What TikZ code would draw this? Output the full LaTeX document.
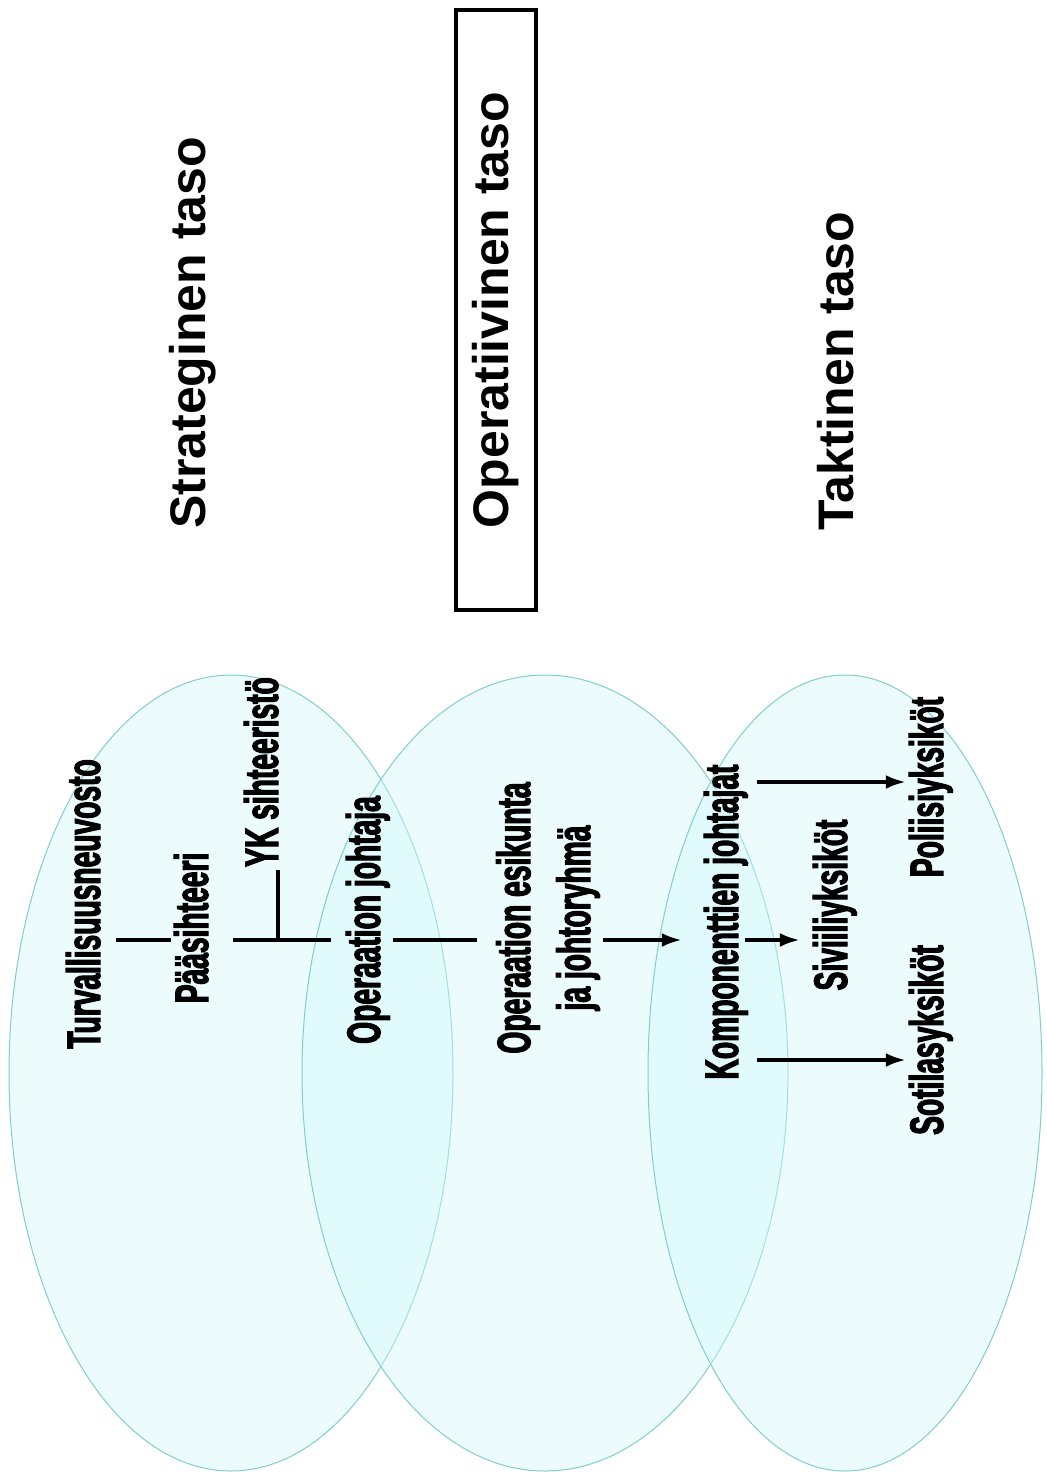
\documentclass[tikz,border=0pt]{standalone}
\usepackage{fontspec}
\setmainfont{Liberation Sans}
\newfontfamily\narrowfont[FakeStretch=0.6, FakeBold=2.4]{Liberation Sans}
\usetikzlibrary{arrows.meta}
\definecolor{shell}{RGB}{210,247,249}
\definecolor{rim}{RGB}{130,205,205}

\begin{document}
\begin{tikzpicture}[x=1pt,y=-1pt,
		lvl/.style={draw=rim, line width=1pt, fill=shell, fill opacity=0.42},
		ttl/.style={rotate=90, font=\bfseries\fontsize{50}{60}\selectfont, inner sep=3pt},
		lbl/.style={rotate=90, font=\narrowfont\bfseries\fontsize{47}{60}\selectfont, inner sep=3pt},
		link/.style={line width=3.5pt},
		flow/.style={line width=3.5pt, ->, >={Latex[length=20pt,width=14pt]}}]
		\useasboundingbox (0,0) rectangle (1046,1479);
		
		\draw[lvl] (231,1073) ellipse [x radius=222, y radius=398];
		\draw[lvl] (545,1073) ellipse [x radius=243, y radius=398];
		\draw[lvl] (845,1073) ellipse [x radius=197, y radius=398];
		
		\node[ttl, anchor=base] (strat) at (205,333) {Strateginen taso};
		\node[ttl, draw, line width=3.5pt, minimum width=600, minimum height=80] (oper) at (496,310) {Operatiivinen taso};
		\node[ttl, anchor=base] (takt) at (853,371) {Taktinen taso};
		
		\node[lbl, anchor=base] (turva) at (100,904) {Turvallisuusneuvosto};
		\node[lbl, anchor=base] (paasi) at (208,928) {Pääsihteeri};
		\node[lbl, anchor=base] (yk) at (278,772) {YK sihteeristö};
		\node[lbl, anchor=base] (johtaja) at (380,920) {Operaation johtaja};
		\node[lbl, align=center] (esikunta) at (548,918) {Operaation esikunta\\ja johtoryhmä};
		\node[lbl, anchor=base] (komp) at (738,922) {Komponenttien johtajat};
		\node[lbl, anchor=base] (sivi) at (847,905) {Siviiliyksiköt};
		\node[lbl, anchor=base] (poli) at (943,787) {Poliisiyksiköt};
		\node[lbl, anchor=base] (soti) at (943,1040) {Sotilasyksiköt};
		
		\coordinate (spine) at (0,940);
		\coordinate (upper) at (0,782);
		\coordinate (lower) at (0,1060);
		
		\draw[link, shorten <=12pt] (turva.south |- spine) -- (paasi.north |- spine);
		\draw[link, shorten <=21pt, shorten >=12pt] (paasi.south |- spine) -- (johtaja.north |- spine);
		\draw[link] (yk.base west |- spine) -- (yk.base west);
		\draw[link, shorten >=16pt] (johtaja.south |- spine) -- (esikunta.north |- spine);
		\draw[flow, shorten >=19pt] (esikunta.south |- spine) -- (komp.north |- spine);
		\draw[flow, shorten <=-6pt, shorten >=10pt] (komp.south |- spine) -- (sivi.north |- spine);
		\draw[flow, shorten <=6pt] (komp.south |- upper) -- (poli.north |- upper);
		\draw[flow, shorten <=6pt] (komp.south |- lower) -- (soti.north |- lower);
\end{tikzpicture}
\end{document}
